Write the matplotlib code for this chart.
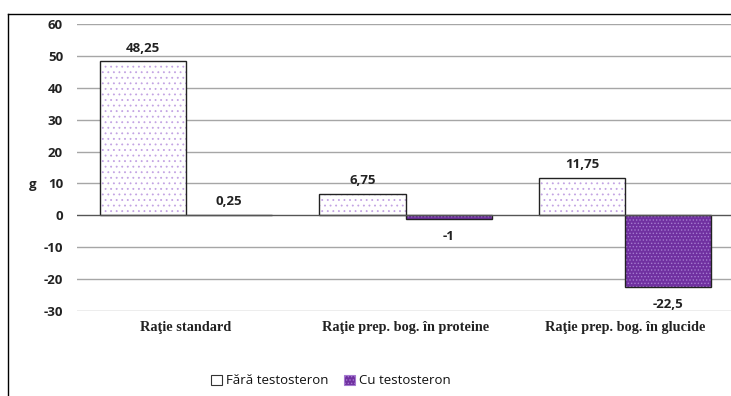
import matplotlib
matplotlib.use("Agg")
import matplotlib.pyplot as plt
from matplotlib.lines import Line2D
from matplotlib.patches import Patch
import numpy as np

plt.rcParams['hatch.linewidth'] = 0.6

categories = ["Raţie standard", "Raţie prep. bog. în proteine", "Raţie prep. bog. în glucide"]
series_names = ["Fără testosteron", "Cu testosteron"]
fara = [48.25, 6.75, 11.75]
cu = [0.25, -1, -22.5]
fara_labels = ["48,25", "6,75", "11,75"]
cu_labels = ["0,25", "-1", "-22,5"]
yticks = [-30, -20, -10, 0, 10, 20, 30, 40, 50, 60]

W, H = 731, 396
fig = plt.figure(figsize=(W/100, H/100), dpi=100)
ax = fig.add_axes([77/W, 1-311/H, (731-77)/W, (311-24)/H])

x = np.arange(len(categories))
bw = 0.392
purple = '#7030A0'
FONT = 'Open Sans'

ax.bar(x - bw, fara, width=bw, align='edge', facecolor='white',
       edgecolor='#C3A3E3', hatch='...', linewidth=0, zorder=3)
ax.bar(x - bw, fara, width=bw, align='edge', facecolor='none',
       edgecolor='#222222', linewidth=1.0, zorder=4)
ax.bar(x, cu, width=bw, align='edge', facecolor=purple,
       edgecolor='#A57AD0', hatch='.....', linewidth=0, zorder=3)
ax.bar(x, cu, width=bw, align='edge', facecolor='none',
       edgecolor='#222222', linewidth=1.0, zorder=4)

ax.set_xlim((77-186)/219.5, (731-186)/219.5)
ax.set_ylim(-30, 60)
ax.set_yticks(yticks)
ax.set_yticklabels([str(v) for v in yticks], fontfamily=FONT, fontweight='bold', fontsize=9.5, color='#222222')
ax.tick_params(axis='y', length=0, pad=10)
ax.set_xticks([])
for s in ax.spines.values():
    s.set_visible(False)
for v in yticks:
    ax.axhline(v, color='#A6A6A6' if v != 0 else '#555555', linewidth=1.0, zorder=1 if v != 0 else 5)

lab_kw = dict(ha='center', fontfamily=FONT, fontweight='bold', fontsize=9.5, color='#222222')
for i in range(len(categories)):
    ax.annotate(fara_labels[i], (x[i] - bw/2, fara[i]), xytext=(0, 5), textcoords='offset points', va='bottom', **lab_kw)
    if cu[i] >= 0:
        ax.annotate(cu_labels[i], (x[i] + bw/2, cu[i]), xytext=(0, 5), textcoords='offset points', va='bottom', **lab_kw)
    else:
        ax.annotate(cu_labels[i], (x[i] + bw/2, cu[i]), xytext=(0, -8), textcoords='offset points', va='top', **lab_kw)
    ax.text(x[i], -35.3, categories[i], ha='center', va='center', fontfamily='Liberation Serif',
            fontweight='bold', fontsize=10.3, color='#222222')

fig.text(33/W, 1-185/H, 'g', ha='center', va='center', fontfamily=FONT, fontweight='bold', fontsize=9.5, color='#222222')

# outer frame
fig.add_artist(Line2D([8/W, 1], [1-14/H, 1-14/H], color='black', linewidth=1.0))
fig.add_artist(Line2D([8/W, 8/W], [1-14/H, 0], color='black', linewidth=1.0))

handles = [Patch(facecolor='white', edgecolor='#333333', linewidth=0.8),
           Patch(facecolor=purple, edgecolor='#A57AD0', hatch='.....', linewidth=0.8)]
fig.legend(handles, series_names, loc='center', bbox_to_anchor=(331/W, 1-381/H), ncol=2,
           frameon=False, prop={'family': FONT, 'size': 9.5}, labelcolor='#111111',
           handlelength=0.8, handleheight=0.8, handletextpad=0.3, columnspacing=1.2)

fig.savefig('out.png', dpi=100)
